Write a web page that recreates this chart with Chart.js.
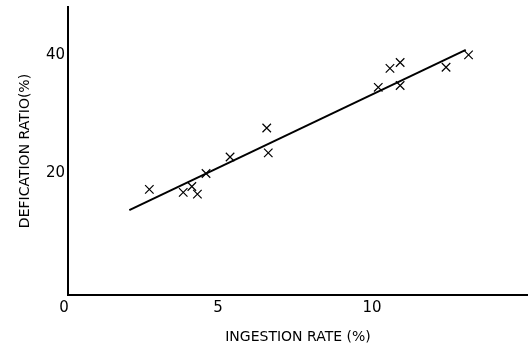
<!DOCTYPE html>
<html>
<head>
<meta charset="utf-8">
<script src="https://cdn.jsdelivr.net/npm/chart.js@4"></script>
<style>
  html, body { margin: 0; padding: 0; background: #fff; }
  #wrap { width: 528px; height: 348px; }
</style>
</head>
<body>
<div id="wrap"><canvas id="c" width="528" height="348"></canvas></div>
<script>
// Data
const ingestionRate = [2.77, 3.87, 4.15, 4.33, 4.61, 5.39, 6.58, 6.63, 10.2, 10.58, 10.91, 10.91, 12.4, 13.13];
const deficationRatio = [17.2, 16.7, 17.7, 16.4, 19.9, 22.7, 27.6, 23.4, 34.5, 37.7, 38.7, 34.8, 37.9, 40.0];
const fitX = [2.12, 13.04];
const fitY = [13.7, 40.85];
const xTicks = [0, 5, 10];
const yTicks = [20, 40];
const xTitle = 'INGESTION RATE (%)';
const yTitle = 'DEFICATION RATIO(%)';

const points = ingestionRate.map((x, i) => ({ x: x, y: deficationRatio[i] }));
const fitLine = fitX.map((x, i) => ({ x: x, y: fitY[i] }));

const FONT = 'DejaVu Sans';

new Chart(document.getElementById('c'), {
  type: 'scatter',
  data: {
    datasets: [
      {
        type: 'line',
        data: fitLine,
        borderColor: '#000',
        borderWidth: 2,
        pointRadius: 0,
        fill: false,
        tension: 0
      },
      {
        data: points,
        pointStyle: 'crossRot',
        pointRadius: 6,
        pointBorderWidth: 1.2,
        borderColor: '#000',
        backgroundColor: '#000'
      }
    ]
  },
  options: {
    responsive: false,
    animation: false,
    layout: { autoPadding: false, padding: { top: 7, right: 0, left: 0, bottom: 0 } },
    plugins: { legend: { display: false }, tooltip: { enabled: false } },
    scales: {
      x: {
        type: 'linear',
        min: 0.13,
        max: 15.06,
        grid: { display: false, drawTicks: false },
        border: { display: true, color: '#000', width: 2 },
        afterBuildTicks: (axis) => { axis.ticks = xTicks.map(v => ({ value: v })); },
        afterFit: (axis) => {
          axis.height = 53;
          axis.paddingLeft = 0;
          axis.paddingRight = 0;
        },
        ticks: {
          color: '#000',
          font: { family: FONT, size: 15 },
          padding: 4,
          maxRotation: 0,
          autoSkip: false
        },
        title: {
          display: true,
          text: xTitle,
          color: '#000',
          font: { family: FONT, size: 14 },
          padding: { top: 0, bottom: 2 }
        }
      },
      y: {
        type: 'linear',
        min: -0.68,
        max: 48.1,
        grid: { display: false, drawTicks: false },
        border: { display: true, color: '#000', width: 2 },
        afterBuildTicks: (axis) => { axis.ticks = yTicks.map(v => ({ value: v })); },
        afterFit: (axis) => {
          axis.width = 68;
          axis.paddingTop = 0;
          axis.paddingBottom = 0;
        },
        ticks: {
          color: '#000',
          font: { family: FONT, size: 15 },
          padding: 3,
          autoSkip: false
        },
        title: {
          display: true,
          text: yTitle,
          color: '#000',
          font: { family: FONT, size: 14 },
          padding: { top: 17, bottom: 0 }
        }
      }
    }
  }
});
</script>
</body>
</html>
